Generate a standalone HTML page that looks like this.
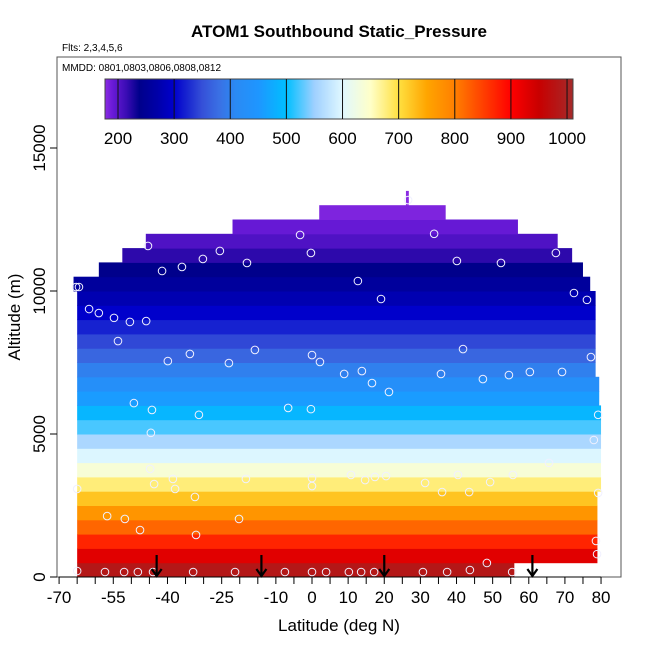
<!DOCTYPE html>
<html><head><meta charset="utf-8"><style>
body{margin:0;background:#fff}
svg{display:block;font-family:"Liberation Sans",Arial,sans-serif}
</style></head><body>
<svg id="chart" width="650" height="650" viewBox="0 0 650 650">
<defs>
<linearGradient id="cbgrad" x1="0" x2="1" y1="0" y2="0"></linearGradient>
</defs>
<text x="339" y="37" text-anchor="middle" font-size="17" font-weight="bold">ATOM1 Southbound Static_Pressure</text>
<text x="62" y="51" font-size="10">Flts: 2,3,4,5,6</text>
<g id="cells"></g>
<g id="points"></g>
<g id="arrows"></g>
<rect x="57" y="57" width="564" height="520" fill="none" stroke="#555" stroke-width="1"/>
<text x="62" y="71" font-size="10">MMDD: 0801,0803,0806,0808,0812</text>
<g id="colorbar"></g>
<g id="xaxis"></g>
<g id="yaxis"></g>
<text x="339" y="631" text-anchor="middle" font-size="17">Latitude (deg N)</text>
<text transform="translate(20,317) rotate(-90)" text-anchor="middle" font-size="17">Altitude (m)</text>
</svg>
<script>
const rowBottoms=[0,500,1000,1500,2000,2500,3000,3500,4000,4500,5000,5500,6000,6500,7000,7500,8000,8500,9000,9500,10000,10500,11000,11500,12000,12500,13000];
const rowPressure=[984,927,872,820,771,724,679,637,597,559,523,489,457,427,398,371,345,321,298,277,257,238,220,204,192,182,176];
const rowLatStart=[-65,-65,-65,-65,-65,-65,-65,-65,-65,-65,-65,-65,-65,-65,-65,-65,-65,-65,-65,-65,-66,-59,-52.5,-46,-22,2,26];
const rowLatEnd=[56,79,79,79,79,79,80,80,80,80,80,80,79.5,79.5,78.5,78.5,78.5,78.5,78.5,78.5,77,75,72,68,57,37,26.8];
const ptLat=[-65.3,-64.5,-45.4,-41.5,-36,-30.2,-25.5,-18,-3.3,-0.3,12.7,19.1,33.8,40.1,52.3,67.5,72.5,76.1,-61.7,-59,-54.8,-50.4,-45.9,-53.7,-39.9,-33.8,-15.8,-23,0,2.2,8.9,13.8,16.6,21.3,35.7,41.8,47.3,54.5,60.3,69.2,77.2,-49.3,-44.3,-44.6,-31.3,-6.6,-0.3,79.2,78,65.6,-44.8,-43.7,-38.5,-37.9,-18.3,0,0,10.8,14.7,17.4,20.5,31.3,40.4,49.3,55.6,36,43.5,-65,79.2,-32.4,-56.7,-51.8,-47.6,-20.2,-32.1,78.6,78.9,-65,-57.3,-52,-48.2,-44,-32.9,-21.3,-7.5,0,3.9,10.2,13.6,17.2,30.7,37.4,43.7,48.4,55.4,26.6];
const ptAlt=[10140,10140,11575,10700,10840,11120,11400,10980,11960,11330,10350,9720,12000,11050,10980,11330,9930,9690,9370,9230,9060,8920,8950,8250,7550,7800,7940,7480,7760,7520,7100,7200,6780,6470,7100,7970,6920,7060,7170,7170,7690,6080,5840,5040,5670,5910,5870,5670,4790,3990,3780,3250,3430,3080,3430,3460,3180,3570,3390,3500,3530,3290,3570,3320,3570,2970,2970,3080,2940,2800,2130,2030,1640,2030,1470,1260,800,210,175,175,175,175,175,175,175,175,175,175,175,175,175,175,245,490,175,13180];
const arrowLat=[-43,-14,20,61];
const xTicks=[-70,-65,-60,-55,-50,-45,-40,-35,-30,-25,-20,-15,-10,-5,0,5,10,15,20,25,30,35,40,45,50,55,60,65,70,75,80];
const xLabels=[-70,-55,-40,-25,-10,0,10,20,30,40,50,60,70,80];
const yTicks=[0,5000,10000,15000];
const cbTicks=[200,300,400,500,600,700,800,900,1000];
const cbStopVals=[177,190,215,238,270,300,325,350,380,410,450,500,550,600,650,700,750,800,850,900,950,1011];
const cbStopCols=["#8a2be2","#6a1ad8","#3a0cb4","#00008b","#0000a8","#0000cd","#1a28d0","#3550d8","#3a70e4","#2a8af4","#1e96ff","#00bfff","#9fd0ff","#e0f8ff","#ffffc8","#ffe040","#ffa500","#ff7f00","#ff4000","#ff0000","#c80000","#a52a2a"];

const NS="http://www.w3.org/2000/svg";
const X=v=>312+(v)*3.613;
const Y=v=>577-v*0.0286;
const CB=v=>118+(v-200)*0.5613;
function hex(c){return [1,3,5].map(i=>parseInt(c.substr(i,2),16));}
function colorOf(v){
  for(let i=0;i<cbStopVals.length-1;i++){
    if(v<=cbStopVals[i+1]){
      const t=Math.max(0,(v-cbStopVals[i])/(cbStopVals[i+1]-cbStopVals[i]));
      const a=hex(cbStopCols[i]),b=hex(cbStopCols[i+1]);
      return "rgb("+a.map((x,k)=>Math.round(x+(b[k]-x)*t)).join(",")+")";
    }
  }
  return cbStopCols[cbStopCols.length-1];
}
function mk(tag,attrs,parent){const e=document.createElementNS(NS,tag);for(const k in attrs)e.setAttribute(k,attrs[k]);parent.appendChild(e);return e;}

const cells=document.getElementById('cells');
rowBottoms.forEach((b,i)=>{
  const r=mk('rect',{x:X(rowLatStart[i]),y:Y(b+500),width:X(rowLatEnd[i])-X(rowLatStart[i]),height:Y(b)-Y(b+500)+0.5,fill:colorOf(rowPressure[i])},cells);
  
  
});
const pts=document.getElementById('points');
ptLat.forEach((la,i)=>{
  const c=mk('circle',{cx:X(la),cy:Y(ptAlt[i]),r:3.8,fill:'none',stroke:'#f0f0ff','stroke-width':1},pts);
  
  
});
const arr=document.getElementById('arrows');
arrowLat.forEach(la=>{
  const g=mk('g',{},arr);
  
  
  const x=X(la);
  mk('line',{x1:x,y1:555,x2:x,y2:576,stroke:'#000','stroke-width':2.2},g);
  mk('polyline',{points:(x-5)+",569 "+x+",576 "+(x+5)+",569",fill:'none',stroke:'#000','stroke-width':2.2},g);
});
const grad=document.getElementById('cbgrad');
cbStopVals.forEach((v,i)=>{mk('stop',{offset:((CB(v)-105)/(573-105)),'stop-color':cbStopCols[i]},grad);});
const cb=document.getElementById('colorbar');
const cbr=mk('rect',{x:105,y:79,width:468,height:40,fill:'url(#cbgrad)',stroke:'#444','stroke-width':1},cb);


cbTicks.forEach(v=>{
  mk('line',{x1:CB(v),y1:79,x2:CB(v),y2:119,stroke:'#111','stroke-width':1},cb);
  const t=mk('text',{x:CB(v),y:144,'text-anchor':'middle','font-size':17},cb);
  t.textContent=v;
  
  
});
const xa=document.getElementById('xaxis');
mk('line',{x1:X(-70),y1:577,x2:X(80),y2:577,stroke:'#000'},xa);
xTicks.forEach(v=>mk('line',{x1:X(v),y1:577,x2:X(v),y2:584,stroke:'#000'},xa));
xLabels.forEach(v=>{
  const t=mk('text',{x:X(v),y:603,'text-anchor':'middle','font-size':17},xa);
  t.textContent=v;
  
  
});
const ya=document.getElementById('yaxis');
yTicks.forEach(v=>{
  mk('line',{x1:50,y1:Y(v),x2:57,y2:Y(v),stroke:'#000'},ya);
  const t=mk('text',{transform:"translate(45,"+Y(v)+") rotate(-90)",'text-anchor':'middle','font-size':17},ya);
  t.textContent=v;
  
  
});
</script>
</body></html>
